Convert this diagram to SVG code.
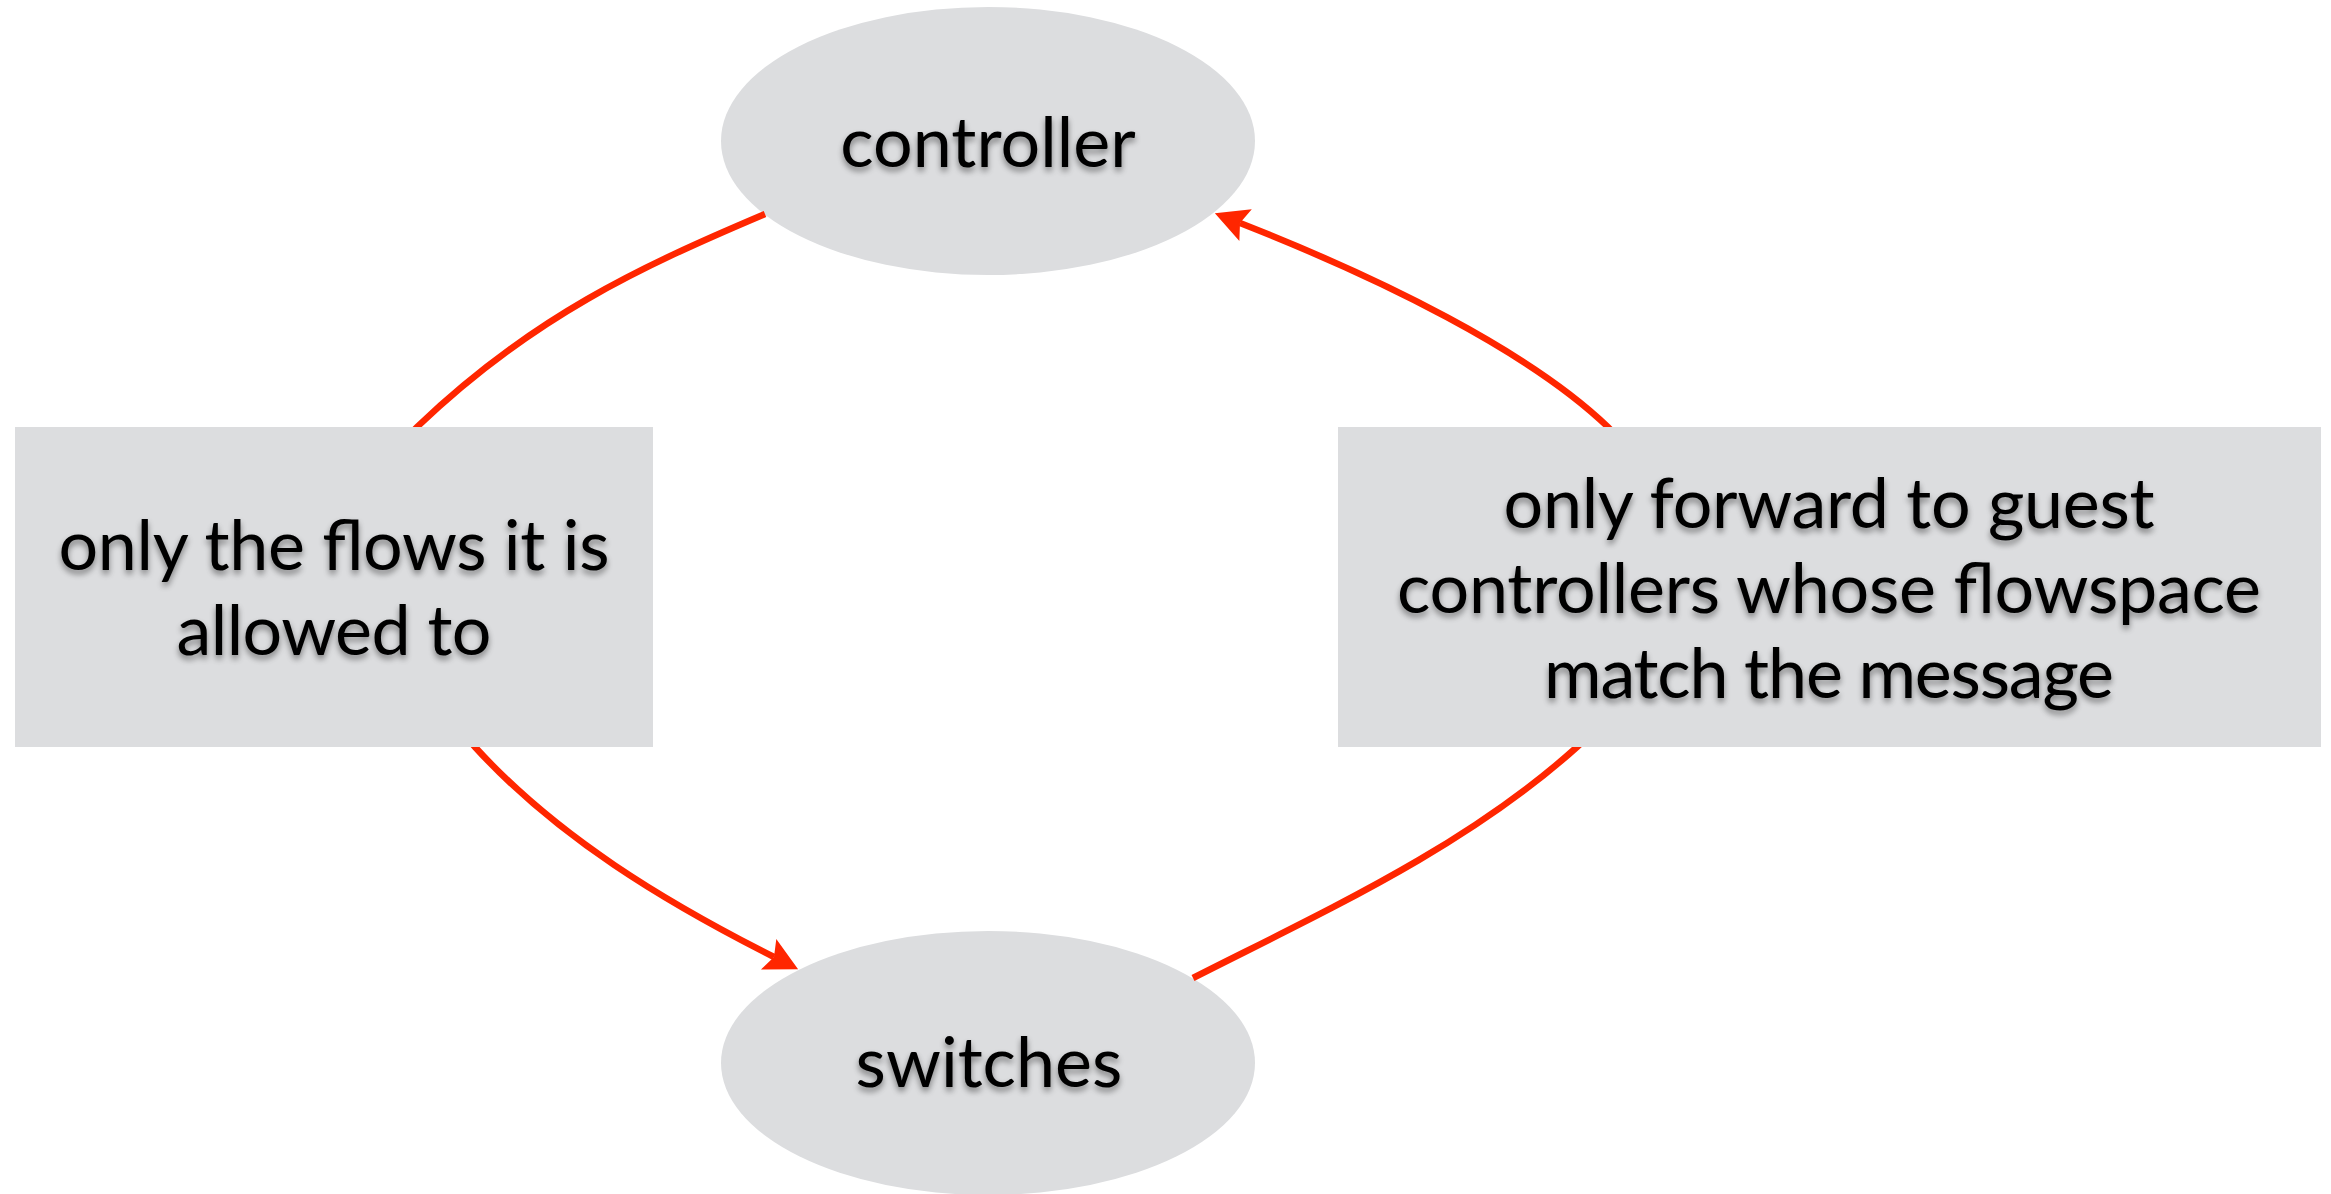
<svg xmlns="http://www.w3.org/2000/svg" width="2331" height="1194" viewBox="0 0 2331 1194">
  <style>
    .shape { fill: #dcdddf; }
    .label { font-family: Lato, "Open Sans", "Liberation Sans", sans-serif; font-size: 70px; fill: #000; text-anchor: middle; filter: url(#textShadow); }
    .flow { fill: none; stroke: #ff2600; stroke-width: 6.5; stroke-linecap: butt; }
  </style>
  <defs>
    <filter id="textShadow" x="-10%" y="-30%" width="120%" height="170%">
      <feGaussianBlur in="SourceAlpha" stdDeviation="3"/>
      <feOffset dx="0" dy="4" result="blur"/>
      <feComponentTransfer in="blur" result="shadow">
        <feFuncA type="linear" slope="0.45"/>
      </feComponentTransfer>
      <feMerge>
        <feMergeNode in="shadow"/>
        <feMergeNode in="SourceGraphic"/>
      </feMerge>
    </filter>
    <marker id="arrowHead" markerUnits="userSpaceOnUse" viewBox="-1 -18 36 36" markerWidth="36" markerHeight="36" refX="6" refY="0" orient="auto" overflow="visible">
      <path d="M33,0 L0,-17 L6,0 L0,17 Z" fill="#ff2600"/>
    </marker>
  </defs>

  <rect width="2331" height="1194" fill="#ffffff"/>

  <!-- ellipse nodes -->
  <g id="controller">
    <ellipse class="shape" cx="988" cy="141" rx="267" ry="134"/>
    <text class="label" x="988" y="167">controller</text>
  </g>
  <g id="switches">
    <ellipse class="shape" cx="988" cy="1063" rx="267" ry="132"/>
    <text class="label" x="989" y="1087">switches</text>
  </g>

  <!-- connectors: each runs behind its label box -->
  <g id="connectors">
    <path id="edge-controller-switches" class="flow" marker-end="url(#arrowHead)"
          d="M765,214 C640,267 532,317 417,427 C331,510 395,658 475,747 C557,837 665,902 774,957"/>
    <path id="edge-switches-controller" class="flow" marker-end="url(#arrowHead)"
          d="M1193,978 C1327,910 1466,847 1577,747 C1666,667 1694,510 1608,427 C1529,351 1380,278 1240,223"/>
  </g>

  <!-- label boxes on the connectors -->
  <g id="label-left">
    <rect class="shape" x="15" y="427" width="638" height="320"/>
    <text class="label" x="334" y="570" textLength="551" lengthAdjust="spacing">only the flows it is</text>
    <text class="label" x="334" y="655" textLength="315" lengthAdjust="spacing">allowed to</text>
  </g>
  <g id="label-right">
    <rect class="shape" x="1338" y="427" width="983" height="320"/>
    <text class="label" x="1829" y="528" textLength="651" lengthAdjust="spacing">only forward to guest</text>
    <text class="label" x="1829" y="613" textLength="864" lengthAdjust="spacing">controllers whose flowspace</text>
    <text class="label" x="1829" y="698" textLength="570" lengthAdjust="spacing">match the message</text>
  </g>
</svg>
